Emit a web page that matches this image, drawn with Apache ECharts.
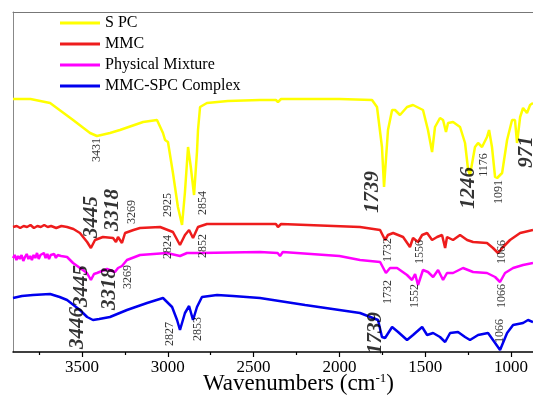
<!DOCTYPE html>
<html>
<head>
<meta charset="utf-8">
<script src="https://cdn.jsdelivr.net/npm/echarts@6/dist/echarts.min.js"></script>
<style>
  html, body { margin: 0; padding: 0; background: #fff; }
  #chart { width: 533px; height: 399px; }
</style>
</head>
<body>
<div id="chart"></div>
<script>
// FTIR spectra, [wavenumber cm-1, transmittance (offset, a.u.)]
const seriesNames = ['S PC', 'MMC', 'Physical Mixture', 'MMC-SPC Complex']

const spc = [
  [3902, 253], [3800, 253], [3686, 249], [3552, 232], [3453, 219], [3413, 216],
  [3337, 219], [3279, 222], [3144, 230], [3063, 232], [3028, 219], [3016, 212],
  [2999, 210], [2970, 179], [2941, 145], [2917, 127], [2900, 160], [2882, 205],
  [2866, 185], [2847, 157], [2830, 200], [2824, 222], [2812, 245], [2772, 249],
  [2650, 251], [2463, 252], [2370, 252], [2358, 250], [2340, 253], [2000, 253],
  [1810, 252], [1781, 245], [1752, 205], [1740, 165], [1717, 222], [1693, 242],
  [1676, 242], [1647, 237], [1606, 245], [1571, 247], [1513, 242], [1484, 222],
  [1460, 200], [1443, 225], [1414, 234], [1396, 232], [1379, 220], [1367, 229],
  [1338, 230], [1297, 225], [1268, 209], [1250, 182], [1239, 177], [1210, 205],
  [1192, 209], [1169, 205], [1140, 215], [1128, 222], [1111, 205], [1093, 175],
  [1081, 174], [1052, 179], [1023, 212], [994, 232], [977, 232], [965, 209],
  [947, 235], [930, 244], [907, 239], [889, 247], [872, 249]
]

const mmc = [
  [3902, 125], [3880, 126], [3860, 124], [3840, 126], [3820, 125], [3800, 127],
  [3780, 124], [3760, 126], [3740, 125], [3720, 127], [3700, 125], [3680, 126],
  [3650, 124], [3620, 126], [3587, 125], [3550, 123], [3512, 119], [3470, 110],
  [3448, 104], [3424, 112], [3378, 115], [3319, 114], [3302, 110], [3290, 115],
  [3267, 109], [3249, 119], [3200, 122], [3162, 124], [3045, 125], [2970, 120],
  [2929, 107], [2900, 117], [2876, 122], [2853, 114], [2824, 125], [2772, 128],
  [2463, 128], [2370, 128], [2358, 125], [2340, 128], [1880, 125], [1763, 122],
  [1734, 112], [1717, 117], [1687, 119], [1629, 115], [1589, 105], [1571, 114],
  [1542, 110], [1518, 117], [1489, 119], [1460, 112], [1431, 115], [1402, 117],
  [1384, 104], [1373, 115], [1338, 112], [1297, 117], [1256, 112], [1221, 110],
  [1140, 109], [1105, 104], [1076, 99], [1046, 105], [1006, 112], [947, 119],
  [872, 122]
]

const mixture = [
  [3902, 94], [3892, 97], [3882, 92], [3872, 96], [3862, 93], [3852, 97],
  [3842, 91], [3832, 95], [3822, 98], [3812, 93], [3802, 96], [3792, 92],
  [3782, 97], [3772, 94], [3762, 99], [3752, 93], [3742, 97], [3732, 95],
  [3722, 99], [3712, 94], [3702, 98], [3692, 93], [3682, 97], [3672, 95],
  [3662, 98], [3652, 94], [3642, 97], [3632, 95], [3622, 96], [3611, 94],
  [3587, 95], [3552, 89], [3471, 79], [3448, 72], [3430, 78], [3413, 79],
  [3354, 83], [3308, 80], [3290, 84], [3267, 86], [3238, 92], [3162, 97],
  [3005, 99], [2929, 96], [2888, 99], [2812, 99], [2463, 100], [2360, 99],
  [2346, 96], [2330, 100], [2000, 96], [1880, 92], [1763, 90], [1729, 79],
  [1705, 84], [1664, 84], [1606, 77], [1577, 72], [1559, 78], [1542, 67],
  [1513, 82], [1484, 80], [1454, 75], [1425, 82], [1396, 72], [1373, 79],
  [1338, 79], [1280, 84], [1221, 80], [1140, 79], [1093, 75], [1064, 70],
  [1035, 79], [988, 84], [930, 87], [872, 89]
]

const complex = [
  [3902, 54], [3850, 56], [3786, 57], [3686, 58], [3630, 55], [3587, 52],
  [3512, 42], [3470, 35], [3436, 32], [3400, 33], [3337, 35], [3238, 42],
  [3121, 49], [3028, 54], [2975, 45], [2946, 32], [2929, 22], [2900, 39],
  [2876, 46], [2853, 32], [2830, 45], [2801, 55], [2713, 57], [2620, 56],
  [2463, 54], [2200, 47], [2000, 42], [1880, 39], [1775, 32], [1752, 15],
  [1734, 14], [1693, 25], [1658, 20], [1606, 12], [1571, 17], [1518, 25],
  [1489, 17], [1454, 19], [1414, 15], [1384, 10], [1355, 19], [1309, 20],
  [1268, 15], [1239, 12], [1192, 17], [1134, 19], [1105, 12], [1064, 2],
  [1023, 19], [988, 27], [930, 29], [901, 32], [872, 30]
]

// peak annotations: [wavenumber, y, text]
const smallLabels = [
  [3413, 202, '3431'], [2999, 147, '2925'], [2795, 149, '2854'],
  [1157, 187, '1176'], [1070, 160, '1091'],
  [3209, 140, '3269'], [2999, 105, '2824'], [2795, 106, '2852'],
  [1717, 102, '1732'], [1530, 100, '1556'], [1052, 100, '1066'],
  [3232, 75, '3269'], [1717, 60, '1732'], [1559, 56, '1552'], [1052, 56, '1066'],
  [2987, 18, '2827'], [2824, 23, '2853'], [1064, 21, '1066']
]
const bigLabels = [
  [1804, 160, '1739'], [1245, 164, '1246'], [907, 200, '971'],
  [3442, 135, '3445'], [3319, 142, '3318'],
  [3500, 66, '3445'], [3337, 63, '3318'],
  [3523, 24, '3446'], [1792, 19, '1739']
]

const majorTicks = [1000, 1500, 2000, 2500, 3000, 3500]
const minorTicks = [1250, 1750, 2250, 2750, 3250, 3750]
const colors = ['#ffff00', '#ee1c1c', '#ff00ff', '#0000ee']

const font = 'Liberation Serif, Times New Roman, serif'
const chart = echarts.init(document.getElementById('chart'))

function lineSeries(name, data, color) {
  return {
    name,
    type: 'line',
    data,
    symbol: 'none',
    color,
    lineStyle: { color, width: 2.5 },
    z: 2,
  }
}

function labelSeries(data, style) {
  return {
    type: 'scatter',
    data,
    symbolSize: 0,
    silent: true,
    z: 5,
    label: {
      show: true,
      position: 'inside',
      rotate: 90,
      formatter: (p) => p.data[2],
      color: '#000',
      fontFamily: font,
      ...style,
    },
  }
}

chart.setOption({
  animation: false,
  textStyle: { fontFamily: font },
  grid: { left: 13, right: 0, top: 12, bottom: 47, outerBoundsMode: 'none', containLabel: false },
  legend: {
    data: seriesNames,
    orient: 'vertical',
    left: 60,
    top: 15,
    padding: 0,
    icon: 'rect',
    itemWidth: 40,
    itemHeight: 3,
    itemGap: 5,
    textStyle: { fontSize: 16, color: '#000', fontFamily: font, lineHeight: 16 },
  },
  xAxis: [
    {
      type: 'value',
      inverse: true,
      min: 872,
      max: 3902,
      position: 'bottom',
      splitLine: { show: false },
      axisLine: { lineStyle: { color: '#000', width: 1.5 } },
      axisTick: { customValues: majorTicks, length: 5, lineStyle: { color: '#000', width: 1.2 } },
      axisLabel: {
        customValues: majorTicks,
        formatter: (v) => String(v),
        margin: 7,
        fontSize: 17,
        color: '#000',
        fontFamily: font,
      },
    },
    {
      type: 'value',
      inverse: true,
      min: 872,
      max: 3902,
      position: 'bottom',
      splitLine: { show: false },
      axisLine: { show: false },
      axisTick: { customValues: minorTicks, length: 3, lineStyle: { color: '#000', width: 1.2 } },
      axisLabel: { show: false },
    },
    {
      type: 'value',
      inverse: true,
      min: 872,
      max: 3902,
      position: 'top',
      splitLine: { show: false },
      axisLine: { lineStyle: { color: '#777', width: 1 } },
      axisTick: { show: false },
      axisLabel: { show: false },
    },
  ],
  yAxis: {
    type: 'value',
    min: 0,
    max: 340,
    splitLine: { show: false },
    axisLine: { show: true, lineStyle: { color: '#888', width: 1 } },
    axisTick: { show: false },
    axisLabel: { show: false },
  },
  graphic: [
    {
      type: 'text',
      left: 203,
      top: 372,
      style: {
        text: 'Wavenumbers (cm{sup|-1})',
        font: '23px ' + font,
        fill: '#000',
        rich: {
          sup: { fontSize: 13, fontFamily: font, fill: '#000', padding: [0, 0, 10, 0] },
        },
      },
    },
  ],
  series: [
    lineSeries(seriesNames[0], spc, colors[0]),
    lineSeries(seriesNames[1], mmc, colors[1]),
    lineSeries(seriesNames[2], mixture, colors[2]),
    lineSeries(seriesNames[3], complex, colors[3]),
    labelSeries(smallLabels, { fontSize: 12 }),
    labelSeries(bigLabels, { fontSize: 21, fontStyle: 'italic', fontWeight: 'bold' }),
  ],
})
</script>
</body>
</html>
